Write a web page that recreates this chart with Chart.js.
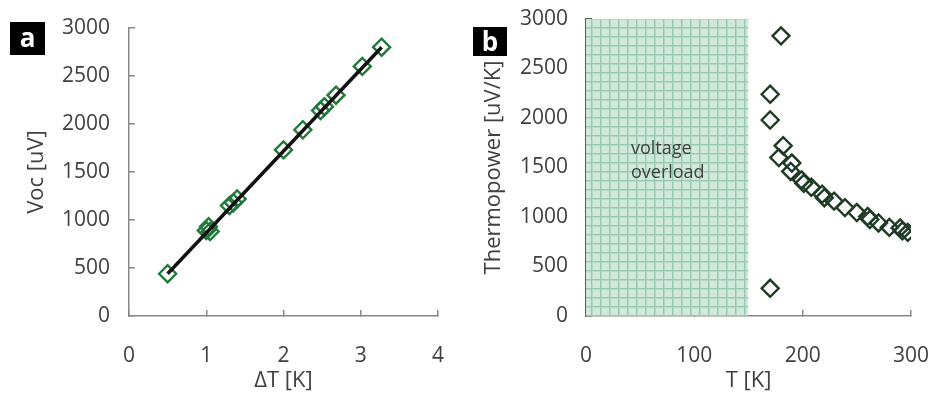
<!DOCTYPE html>
<html>
<head>
<meta charset="utf-8">
<title>Voc and thermopower</title>
<script src="https://cdn.jsdelivr.net/npm/chart.js@4.4.0/dist/chart.umd.min.js"></script>
<style>
  html, body { margin: 0; padding: 0; background: #fff; }
  #wrap { position: relative; width: 930px; height: 394px; overflow: hidden; font-family: 'Open Sans', sans-serif; }
  .panel { position: absolute; top: 0; width: 465px; height: 394px; }
  #pa { left: 0; }
  #pb { left: 465px; }
  .tag { position: absolute; background: #000; color: #fff; font-weight: bold; font-size: 26px; text-align: center; }
  #tag-a { left: 10px; top: 22px; width: 35px; height: 33px; line-height: 31px; }
  #tag-b { left: 473px; top: 27px; width: 34px; height: 29px; line-height: 28px; }
</style>
</head>
<body>
<div id="wrap">
  <div class="panel" id="pa"><canvas id="chart-a" width="465" height="394"></canvas></div>
  <div class="panel" id="pb"><canvas id="chart-b" width="465" height="394"></canvas></div>
  <div class="tag" id="tag-a">a</div>
  <div class="tag" id="tag-b">b</div>
</div>
<script>
/* ── (a) open-circuit voltage vs temperature difference ── */
const deltaT  = [0.5, 1.0, 1.03, 1.05, 1.3, 1.35, 1.4, 2.0, 2.25, 2.48, 2.53, 2.68, 3.02, 3.27];
const vocUV   = [440, 890, 930, 880, 1150, 1180, 1220, 1730, 1940, 2140, 2180, 2300, 2600, 2800];
const fitT    = [0.5, 3.27];
const fitV    = [440, 2800];

/* ── (b) thermopower vs temperature ── */
const tempK    = [170, 170, 170, 180, 182, 178, 190, 189, 199, 201, 208, 218, 220, 229, 239, 250, 260, 262, 270, 280, 290, 292, 297];
const thermoUV = [280, 2240, 1980, 2830, 1720, 1600, 1545, 1460, 1375, 1340, 1300, 1230, 1195, 1160, 1095, 1045, 1005, 975, 940, 895, 890, 860, 845];
const overloadT   = [0, 150];
const overloadTop = [3000, 3000];
const overloadText = ['voltage', 'overload'];

const TEXT = '#404040';
const AXIS = '#878787';
const FONT = "'Open Sans', sans-serif";

const pts = (xs, ys) => xs.map((x, i) => ({ x, y: ys[i] }));

/* Shared axis builder: ticks point inward, no grid on the plot.
   The label padding would otherwise be added to the layout margins,
   so the scale paddings are cleared after fitting. */
function axis(min, max, step, title, opts) {
  return {
    type: 'linear',
    min, max,
    ticks: {
      stepSize: step,
      color: TEXT,
      font: { family: FONT, size: 21 },
      padding: opts.padding,
      callback: v => String(v)
    },
    grid: { drawOnChartArea: false, drawTicks: true, tickLength: -6, color: opts.tickColor || AXIS, lineWidth: 1.5 },
    border: { color: opts.borderColor || AXIS, width: 1.5 },
    title: { display: true, text: title, color: TEXT, font: { family: FONT, size: 22 }, padding: opts.titlePad },
    afterFit: s => {
      if (s.isHorizontal()) s.height = opts.size; else s.width = opts.size;
      s.paddingTop = s.paddingBottom = s.paddingLeft = s.paddingRight = 0;
    }
  };
}

/* Mint grid pattern for the overload region */
function gridPattern() {
  const n = 9;
  const c = document.createElement('canvas');
  c.width = n; c.height = n;
  const g = c.getContext('2d');
  g.fillStyle = '#d0e9dc';
  g.fillRect(0, 0, n, n);
  g.fillStyle = '#b6dbc7';
  g.fillRect(0, 1, n, 1);
  g.fillRect(1, 0, 1, n);
  g.fillStyle = '#98c9af';
  g.fillRect(0, 0, n, 1);
  g.fillRect(0, 0, 1, n);
  return g.createPattern(c, 'repeat');
}

/* ── Chart a ── */
new Chart(document.getElementById('chart-a'), {
  type: 'scatter',
  data: {
    datasets: [
      {
        label: 'fit',
        data: pts(fitT, fitV),
        showLine: true,
        borderColor: '#111',
        borderWidth: 3.5,
        pointRadius: 0
      },
      {
        label: 'Voc',
        data: pts(deltaT, vocUV),
        pointStyle: 'rectRot',
        pointRadius: 8.5,
        pointBorderWidth: 2.4,
        borderColor: '#23793b',
        backgroundColor: 'rgba(0,0,0,0)'
      }
    ]
  },
  options: {
    responsive: false,
    animation: false,
    layout: { padding: { top: 28, right: 27, left: 0, bottom: 0 } },
    plugins: { legend: { display: false }, tooltip: { enabled: false } },
    scales: {
      x: axis(0, 4, 1, 'ΔT [K]', { padding: 33, titlePad: { top: 0, bottom: 0 }, size: 78 }),
      y: axis(0, 3000, 500, 'Voc [uV]', { padding: 25, titlePad: { top: 24, bottom: 0 }, size: 129 })
    }
  }
});

/* ── Overload label, placed in data space ── */
const overloadLabel = {
  id: 'overloadLabel',
  afterDatasetsDraw(chart) {
    const { ctx, scales: { x, y } } = chart;
    ctx.save();
    ctx.font = `18px ${FONT}`;
    ctx.fillStyle = TEXT;
    ctx.textAlign = 'left';
    ctx.textBaseline = 'middle';
    const px = x.getPixelForValue(41.5);
    const py = y.getPixelForValue(1690);
    overloadText.forEach((t, i) => ctx.fillText(t, px, py + i * 24));
    ctx.restore();
  }
};

/* ── Chart b ── */
new Chart(document.getElementById('chart-b'), {
  type: 'scatter',
  data: {
    datasets: [
      {
        label: 'Thermopower',
        data: pts(tempK, thermoUV),
        pointStyle: 'rectRot',
        pointRadius: 8.5,
        pointBorderWidth: 2.4,
        borderColor: '#1f3b24',
        backgroundColor: 'rgba(0,0,0,0)'
      },
      {
        label: 'overload',
        data: pts(overloadT, overloadTop),
        showLine: true,
        fill: 'origin',
        backgroundColor: gridPattern(),
        borderWidth: 0,
        pointRadius: 0
      }
    ]
  },
  options: {
    responsive: false,
    animation: false,
    layout: { padding: { top: 19, right: 19, left: 0, bottom: 0 } },
    plugins: { legend: { display: false }, tooltip: { enabled: false } },
    scales: {
      x: axis(0, 300, 100, 'T [K]', { padding: 33, titlePad: { top: 0, bottom: 0 }, size: 78 }),
      y: axis(0, 3000, 500, 'Thermopower [uV/K]', { padding: 24, titlePad: { top: 16, bottom: 0 }, borderColor: '#3f6b52', tickColor: '#4a6f5a', size: 121 })
    }
  },
  plugins: [overloadLabel]
});
</script>
</body>
</html>
